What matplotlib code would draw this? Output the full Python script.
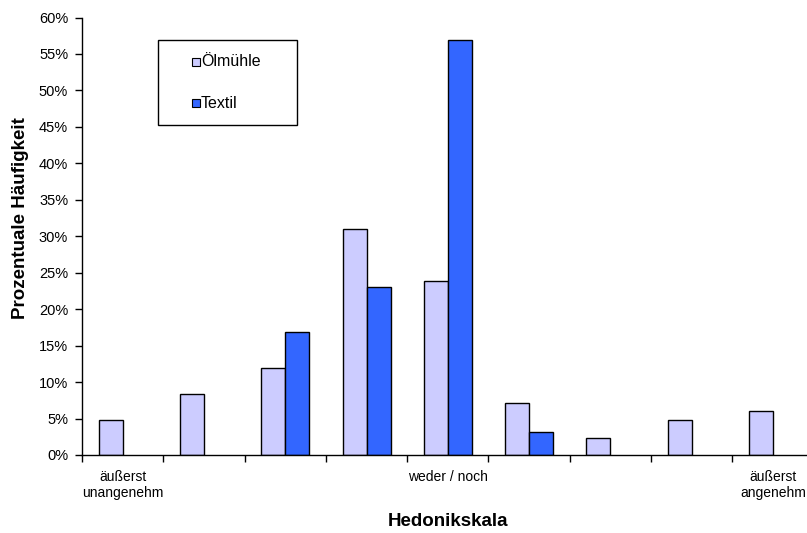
import numpy as np
import matplotlib.pyplot as plt
from matplotlib.patches import Rectangle
from matplotlib.ticker import MultipleLocator, FuncFormatter

plt.rcParams['font.family'] = ['Liberation Sans', 'DejaVu Sans']

# Hedonikskala: 9 Stufen, Anteile in Prozent
stufen = ['äußerst\nunangenehm', '', '', '', 'weder / noch', '', '', '', 'äußerst\nangenehm']
oelmuehle = [4.8, 8.3, 11.9, 31.0, 23.8, 7.1, 2.4, 4.8, 6.0]
textil = [0, 0, 16.9, 23.1, 56.9, 3.1, 0, 0, 0]
serien = ['Ölmühle', 'Textil']
farben = ['#CCCCFF', '#3366FF']

W, H = 807, 533
fig = plt.figure(figsize=(W / 100, H / 100), dpi=100)
# Zeichenfläche ragt rechts etwas über den Bildrand hinaus
ax = fig.add_axes([82 / W, 78 / H, 9 * 81.3 / W, 437.5 / H])

x = np.arange(len(stufen))
b = 0.295
for k, werte in enumerate([oelmuehle, textil]):
    werte = np.array(werte)
    nz = werte > 0  # leere Klassen nicht zeichnen
    ax.bar(x[nz] + (k - 0.5) * b, werte[nz], b, color=farben[k],
           edgecolor='black', linewidth=1)

ax.set_xlim(-0.5, len(stufen) - 0.5)
ax.set_ylim(0, 60)
ax.yaxis.set_major_locator(MultipleLocator(5))
ax.yaxis.set_major_formatter(FuncFormatter(lambda v, p: f'{v:.0f}%'))

ax.set_xticks(x)
ax.set_xticklabels(stufen, fontsize=10, linespacing=1.15)
ax.set_xticks(np.arange(len(stufen) + 1) - 0.5, minor=True)
ax.tick_params(axis='x', which='major', length=0, pad=11)
ax.tick_params(axis='x', which='minor', length=5, width=1, direction='out')
ax.tick_params(axis='y', length=5, width=1, direction='out', labelsize=10.5, pad=5)

for s in ['top', 'right']:
    ax.spines[s].set_visible(False)
for s in ['left', 'bottom']:
    ax.spines[s].set_linewidth(1)

fig.text(21 / W, 1 - 218 / H, 'Prozentuale Häufigkeit', rotation=90, fontsize=13.5,
         fontweight='bold', ha='center', va='center')
fig.text(448 / W, 1 - 522 / H, 'Hedonikskala', fontsize=13.5, fontweight='bold',
         ha='center', va='center')

# Legende mit Rahmen
fig.add_artist(Rectangle((158 / W, 1 - 125 / H), 139 / W, 85 / H, transform=fig.transFigure,
                         facecolor='white', edgecolor='black', linewidth=1))
for k, (name, farbe) in enumerate(zip(serien, farben)):
    yc = 1 - (62 + 41 * k) / H
    fig.add_artist(Rectangle((192 / W, yc - 4 / H), 8 / W, 8 / H, transform=fig.transFigure,
                             facecolor=farbe, edgecolor='black', linewidth=0.8))
    fig.text(201 / W, yc, name, fontsize=11.5, ha='left', va='center')

fig.savefig('out.png', dpi=100)
